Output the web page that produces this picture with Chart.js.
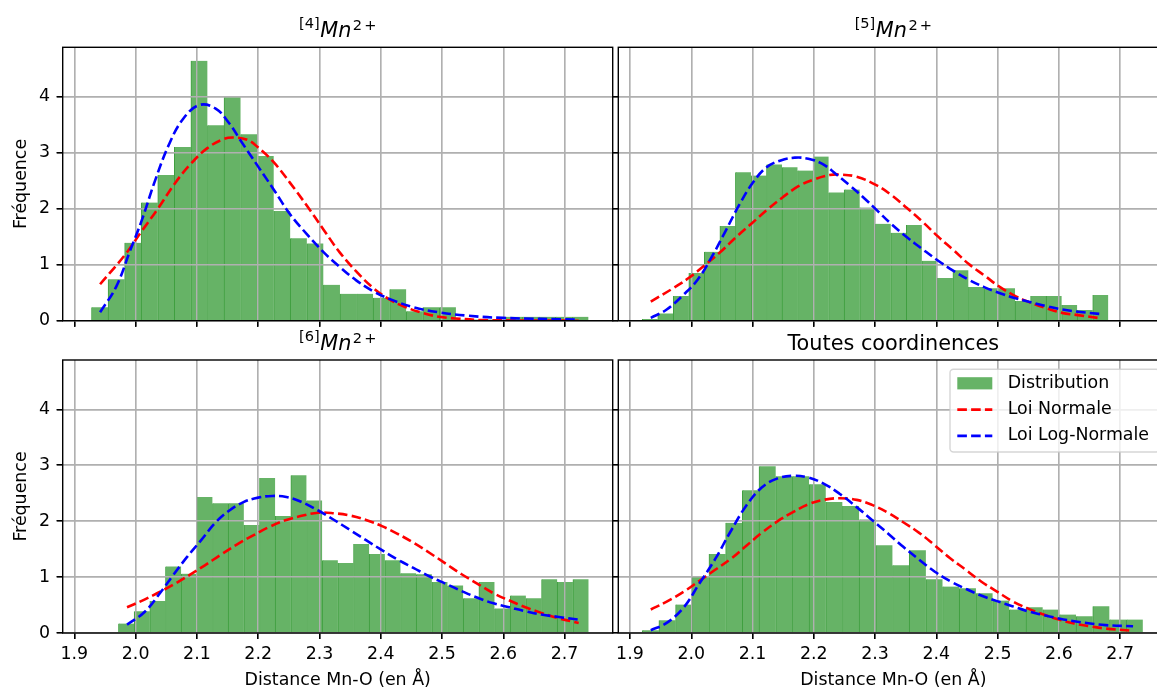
<!DOCTYPE html>
<html lang="fr">
<head>
<meta charset="utf-8">
<title>Distances Mn-O</title>
<script src="https://cdn.jsdelivr.net/npm/chart.js@4.4.1/dist/chart.umd.min.js"></script>
<style>
  html, body { margin: 0; padding: 0; background: #fff; }
  body { width: 1157px; height: 688px; overflow: hidden; position: relative; }
  canvas { position: absolute; }
</style>
</head>
<body>
<canvas id="mn4" width="616" height="332" style="left:0;top:0"></canvas>
<canvas id="mn5" width="560" height="332" style="left:612px;top:0"></canvas>
<canvas id="mn6" width="616" height="363" style="left:0;top:330px"></canvas>
<canvas id="all" width="560" height="363" style="left:612px;top:330px"></canvas>
<script>
// axes communs
const xTicks = [1.9, 2.0, 2.1, 2.2, 2.3, 2.4, 2.5, 2.6, 2.7];
const yTicks = [0, 1, 2, 3, 4];
const xMin = 1.881, xMax = 2.7785, yMax = 4.88;

// histogrammes (30 classes) : début, largeur de classe, fréquences
const mn4Start = 1.928, mn4Width = 0.02703;
const mn4Freq = [0.24, 0.74, 1.39, 2.11, 2.60, 3.10, 4.64, 3.49, 3.99, 3.33, 2.94, 1.96, 1.47, 1.38, 0.64,
                 0.48, 0.48, 0.41, 0.56, 0.17, 0.24, 0.24, 0.02, 0.02, 0.02, 0.07, 0.07, 0.07, 0.07, 0.07];
const mn5Start = 1.920, mn5Width = 0.02535;
const mn5Freq = [0.03, 0.13, 0.44, 0.85, 1.23, 1.69, 2.65, 2.59, 2.79, 2.74, 2.68, 2.93, 2.29, 2.34, 2.02,
                 1.73, 1.57, 1.71, 1.07, 0.76, 0.90, 0.60, 0.58, 0.58, 0.35, 0.44, 0.44, 0.28, 0.19, 0.46];
const mn6Start = 1.972, mn6Width = 0.02557;
const mn6Freq = [0.17, 0.39, 0.57, 1.19, 1.06, 2.43, 2.32, 2.32, 1.93, 2.77, 2.09, 2.82, 2.37, 1.30, 1.25,
                 1.59, 1.41, 1.30, 1.07, 1.05, 0.91, 0.85, 0.62, 0.91, 0.44, 0.67, 0.62, 0.96, 0.91, 0.96];
const allStart = 1.920, allWidth = 0.02723;
const allFreq = [0.05, 0.23, 0.51, 1.00, 1.41, 1.97, 2.55, 2.98, 2.80, 2.80, 2.66, 2.34, 2.27, 2.03, 1.57,
                 1.21, 1.48, 0.96, 0.83, 0.80, 0.71, 0.58, 0.42, 0.46, 0.42, 0.33, 0.30, 0.48, 0.24, 0.24];

// courbes ajustées, points [distance, densité]
const mn4Normal = [[1.942,0.65],[1.983,1.18],[2.010,1.60],[2.037,2.01],[2.064,2.45],[2.090,2.80],[2.117,3.08],
  [2.143,3.24],[2.159,3.27],[2.182,3.23],[2.200,3.09],[2.226,2.82],[2.252,2.46],[2.279,2.06],[2.307,1.62],
  [2.333,1.22],[2.360,0.88],[2.387,0.59],[2.414,0.38],[2.441,0.24],[2.468,0.14],[2.495,0.07],[2.522,0.04],
  [2.570,0.01],[2.723,0.00]];
const mn4LogNormal = [[1.942,0.15],[1.968,0.60],[1.991,1.25],[2.010,1.79],[2.032,2.51],[2.055,3.16],[2.078,3.61],
  [2.104,3.85],[2.130,3.79],[2.153,3.52],[2.171,3.22],[2.200,2.75],[2.226,2.33],[2.252,1.90],[2.279,1.55],
  [2.307,1.22],[2.333,0.96],[2.360,0.72],[2.387,0.53],[2.414,0.39],[2.454,0.24],[2.495,0.15],[2.541,0.09],
  [2.599,0.05],[2.723,0.02]];
const mn5Normal = [[1.934,0.34],[1.972,0.59],[1.997,0.77],[2.022,0.99],[2.048,1.23],[2.073,1.49],[2.099,1.74],
  [2.124,1.98],[2.149,2.20],[2.175,2.40],[2.200,2.52],[2.226,2.60],[2.242,2.61],[2.270,2.57],[2.302,2.42],
  [2.327,2.24],[2.352,2.01],[2.377,1.77],[2.403,1.50],[2.428,1.26],[2.453,1.01],[2.478,0.81],[2.504,0.60],
  [2.529,0.44],[2.554,0.32],[2.580,0.22],[2.605,0.14],[2.631,0.10],[2.663,0.05]];
const mn5LogNormal = [[1.934,0.05],[1.960,0.20],[1.988,0.47],[2.011,0.74],[2.033,1.13],[2.056,1.60],[2.079,2.08],
  [2.101,2.47],[2.123,2.74],[2.146,2.86],[2.169,2.91],[2.191,2.89],[2.214,2.80],[2.236,2.62],[2.259,2.41],
  [2.281,2.20],[2.304,1.96],[2.327,1.72],[2.352,1.49],[2.377,1.28],[2.403,1.07],[2.428,0.89],[2.453,0.73],
  [2.478,0.60],[2.504,0.49],[2.529,0.40],[2.554,0.33],[2.580,0.26],[2.605,0.20],[2.631,0.16],[2.668,0.12]];
const mn6Normal = [[1.986,0.46],[2.009,0.57],[2.035,0.71],[2.061,0.86],[2.087,1.03],[2.113,1.21],[2.139,1.40],
  [2.165,1.58],[2.191,1.74],[2.217,1.89],[2.243,2.01],[2.269,2.09],[2.298,2.15],[2.324,2.14],[2.350,2.10],
  [2.376,2.02],[2.402,1.91],[2.428,1.77],[2.454,1.61],[2.480,1.43],[2.506,1.24],[2.532,1.05],[2.558,0.88],
  [2.584,0.71],[2.610,0.58],[2.636,0.46],[2.662,0.36],[2.688,0.27],[2.723,0.18]];
const mn6LogNormal = [[1.986,0.15],[2.015,0.38],[2.043,0.76],[2.061,1.03],[2.084,1.36],[2.107,1.66],[2.130,1.97],
  [2.153,2.19],[2.176,2.34],[2.200,2.42],[2.223,2.45],[2.246,2.43],[2.269,2.35],[2.298,2.19],[2.324,2.02],
  [2.350,1.84],[2.376,1.66],[2.402,1.48],[2.428,1.31],[2.454,1.16],[2.480,1.01],[2.506,0.88],[2.532,0.75],
  [2.558,0.63],[2.584,0.53],[2.610,0.46],[2.636,0.39],[2.662,0.33],[2.688,0.29],[2.723,0.24]];
const allNormal = [[1.934,0.42],[1.960,0.56],[1.988,0.74],[2.013,0.93],[2.039,1.13],[2.064,1.32],[2.090,1.56],
  [2.115,1.79],[2.140,1.99],[2.166,2.16],[2.191,2.30],[2.216,2.38],[2.242,2.41],[2.270,2.38],[2.295,2.29],
  [2.321,2.15],[2.346,1.98],[2.372,1.79],[2.397,1.57],[2.422,1.34],[2.448,1.13],[2.473,0.92],[2.499,0.74],
  [2.524,0.57],[2.549,0.44],[2.575,0.33],[2.600,0.24],[2.625,0.17],[2.651,0.12],[2.676,0.08],[2.721,0.04]];
const allLogNormal = [[1.934,0.05],[1.960,0.18],[1.988,0.46],[2.013,0.88],[2.039,1.32],[2.064,1.81],[2.090,2.28],
  [2.115,2.60],[2.140,2.76],[2.166,2.81],[2.191,2.78],[2.216,2.67],[2.242,2.49],[2.270,2.25],[2.295,2.02],
  [2.321,1.78],[2.346,1.54],[2.372,1.31],[2.397,1.10],[2.422,0.93],[2.448,0.79],[2.473,0.67],[2.499,0.57],
  [2.524,0.48],[2.549,0.39],[2.575,0.32],[2.600,0.26],[2.625,0.21],[2.651,0.17],[2.676,0.14],[2.721,0.12]];

const FONT = 'DejaVu Sans';
const labelFont = { family: FONT, size: 17.4 };
Chart.defaults.color = '#000';
Chart.defaults.font.family = FONT;

// texte avec exposants (titres façon mathtext)
function drawRich(ctx, parts, cx, baseline) {
  let total = 0;
  parts.forEach(p => {
    ctx.font = (p.italic ? 'italic ' : '') + p.size + 'px "' + FONT + '"';
    p.w = ctx.measureText(p.text).width;
    total += p.w + (p.gap || 0);
  });
  let x = cx - total / 2;
  ctx.save();
  ctx.fillStyle = '#000';
  ctx.textAlign = 'left';
  ctx.textBaseline = 'alphabetic';
  parts.forEach(p => {
    ctx.font = (p.italic ? 'italic ' : '') + p.size + 'px "' + FONT + '"';
    ctx.fillText(p.text, x, baseline - (p.dy || 0));
    x += p.w + (p.gap || 0);
  });
  ctx.restore();
}

function mnTitle(coord) {
  return [
    { text: '[' + coord + ']', size: 14.6, dy: 9, gap: 0.5 },
    { text: 'Mn', size: 20.8, italic: true, gap: 1.5 },
    { text: '2', size: 14.6, dy: 6.5, gap: 2 },
    { text: '+', size: 14.6, dy: 6.5 }
  ];
}

function titlePlugin(parts) {
  return {
    id: 'panelTitle',
    afterDraw(chart) {
      const a = chart.chartArea;
      drawRich(chart.ctx, parts, (a.left + a.right) / 2, a.top - 10.5);
    }
  };
}

// grille au-dessus des barres, sous les courbes (comme matplotlib)
const gridOverBars = {
  id: 'gridOverBars',
  afterDatasetDraw(chart, args) {
    if (args.meta.type !== 'bar') return;
    chart.scales.x.drawGrid(chart.chartArea);
    chart.scales.y.drawGrid(chart.chartArea);
  }
};

// cadre noir autour de chaque sous-graphe
const frame = {
  id: 'frame',
  afterDatasetsDraw(chart) {
    const a = chart.chartArea, ctx = chart.ctx;
    ctx.save();
    ctx.strokeStyle = '#000';
    ctx.lineWidth = 1.4;
    ctx.strokeRect(a.left, a.top, a.right - a.left, a.bottom - a.top);
    ctx.restore();
  }
};

// légende dans la zone du graphe (coin supérieur droit)
const legendBox = {
  id: 'legendBox',
  afterDraw(chart) {
    const ctx = chart.ctx, a = chart.chartArea;
    const items = chart.data.datasets;
    const pad = 7.3, handle = 35, gap = 15.4, rowH = 26.3, h = 82.7, r = 3.5;
    const left = a.right - 218.3, top = a.top + 9.3, right = a.right - 8.7, w = right - left;
    ctx.save();
    ctx.font = labelFont.size + 'px "' + FONT + '"';
    ctx.beginPath();
    ctx.moveTo(left + r, top);
    ctx.lineTo(left + w - r, top);
    ctx.arcTo(left + w, top, left + w, top + r, r);
    ctx.lineTo(left + w, top + h - r);
    ctx.arcTo(left + w, top + h, left + w - r, top + h, r);
    ctx.lineTo(left + r, top + h);
    ctx.arcTo(left, top + h, left, top + h - r, r);
    ctx.lineTo(left, top + r);
    ctx.arcTo(left, top, left + r, top, r);
    ctx.closePath();
    ctx.fillStyle = 'rgba(255,255,255,0.8)';
    ctx.fill();
    ctx.strokeStyle = 'rgba(204,204,204,0.8)';
    ctx.lineWidth = 1.4;
    ctx.stroke();
    items.forEach((d, i) => {
      const cy = top + 14 + i * rowH;
      const hx = left + pad;
      if (d.type === 'bar') {
        ctx.fillStyle = d.backgroundColor;
        ctx.fillRect(hx, cy - 6.1, handle, 12.2);
      } else {
        ctx.beginPath();
        ctx.setLineDash(d.borderDash);
        ctx.strokeStyle = d.borderColor;
        ctx.lineWidth = d.borderWidth;
        ctx.moveTo(hx, cy);
        ctx.lineTo(hx + handle, cy);
        ctx.stroke();
        ctx.setLineDash([]);
      }
      ctx.fillStyle = '#000';
      ctx.textAlign = 'left';
      ctx.textBaseline = 'middle';
      ctx.fillText(d.label, hx + handle + gap, cy);
    });
    ctx.restore();
  }
};

Chart.register(gridOverBars, frame);

function makePanel(p) {
  const bars = p.freq.map((h, i) => ({ x: p.start + (i + 0.5) * p.width, y: h }));
  const toXY = pts => pts.map(([x, y]) => ({ x, y }));
  const plugins = [titlePlugin(p.title)];
  if (p.legend) plugins.push(legendBox);

  new Chart(document.getElementById(p.id), {
    type: 'bar',
    data: {
      datasets: [
        {
          type: 'bar', label: 'Distribution', data: bars,
          backgroundColor: '#66b366', borderColor: '#3f9f3f',
          borderWidth: { left: 1, right: 0, top: 0, bottom: 0 },
          barPercentage: 1, categoryPercentage: 1, order: 3
        },
        {
          type: 'line', label: 'Loi Normale', data: toXY(p.normal),
          borderColor: '#ff0000', borderWidth: 2.6, borderDash: [9.6, 4.2],
          pointRadius: 0, fill: false, tension: 0.4, order: 2
        },
        {
          type: 'line', label: 'Loi Log-Normale', data: toXY(p.lognormal),
          borderColor: '#0000ff', borderWidth: 2.6, borderDash: [9.6, 4.2],
          pointRadius: 0, fill: false, tension: 0.4, order: 1
        }
      ]
    },
    options: {
      responsive: false,
      animation: false,
      devicePixelRatio: 1,
      events: [],
      layout: { padding: p.padding },
      plugins: { legend: { display: false }, tooltip: { enabled: false } },
      scales: {
        x: {
          type: 'linear', min: xMin, max: xMax, offset: false,
          afterBuildTicks: s => { s.ticks = xTicks.map(v => ({ value: v })); },
          afterFit: s => { s.height = p.xHeight; s.paddingLeft = 0; s.paddingRight = 0; },
          grid: { offset: false, color: '#b0b0b0', lineWidth: 1.4, tickLength: 6, tickColor: '#000', tickWidth: 1.4 },
          border: { display: false },
          ticks: { display: p.bottom, padding: 5, font: labelFont, color: '#000', callback: v => v.toFixed(1) },
          title: { display: p.bottom, text: 'Distance Mn-O (en Å)', font: labelFont, color: '#000', padding: { top: 4, bottom: 2.5 } }
        },
        y: {
          min: 0, max: yMax,
          afterBuildTicks: s => { s.ticks = yTicks.map(v => ({ value: v })); },
          afterFit: s => { s.width = p.yWidth; s.paddingTop = 0; s.paddingBottom = 0; },
          grid: { offset: false, color: '#b0b0b0', lineWidth: 1.4, tickLength: 6, tickColor: '#000', tickWidth: 1.4 },
          border: { display: false },
          ticks: { display: p.left, padding: 6.7, font: labelFont, color: '#000', callback: v => String(v) },
          title: { display: p.left, text: 'Fréquence', font: labelFont, color: '#000', padding: { top: 4, bottom: 4 } }
        }
      }
    },
    plugins: plugins
  });
}

makePanel({ id: 'mn4', title: mnTitle(4), freq: mn4Freq, start: mn4Start, width: mn4Width,
  normal: mn4Normal, lognormal: mn4LogNormal, left: true, bottom: false,
  padding: { left: 7.5, top: 47.3, right: 3.3, bottom: 0 }, yWidth: 55.2, xHeight: 11.3 });
makePanel({ id: 'mn5', title: mnTitle(5), freq: mn5Freq, start: mn5Start, width: mn5Width,
  normal: mn5Normal, lognormal: mn5LogNormal, left: false, bottom: false,
  padding: { left: 0, top: 47.3, right: 3.7, bottom: 0 }, yWidth: 6.3, xHeight: 11.3 });
makePanel({ id: 'mn6', title: mnTitle(6), freq: mn6Freq, start: mn6Start, width: mn6Width,
  normal: mn6Normal, lognormal: mn6LogNormal, left: true, bottom: true,
  padding: { left: 7.5, top: 30, right: 3.3, bottom: 0 }, yWidth: 55.2, xHeight: 60 });
makePanel({ id: 'all', title: [{ text: 'Toutes coordinences', size: 20.8 }], freq: allFreq, start: allStart, width: allWidth,
  normal: allNormal, lognormal: allLogNormal, left: false, bottom: true, legend: true,
  padding: { left: 0, top: 30, right: 3.7, bottom: 0 }, yWidth: 6.3, xHeight: 60 });
</script>
</body>
</html>
